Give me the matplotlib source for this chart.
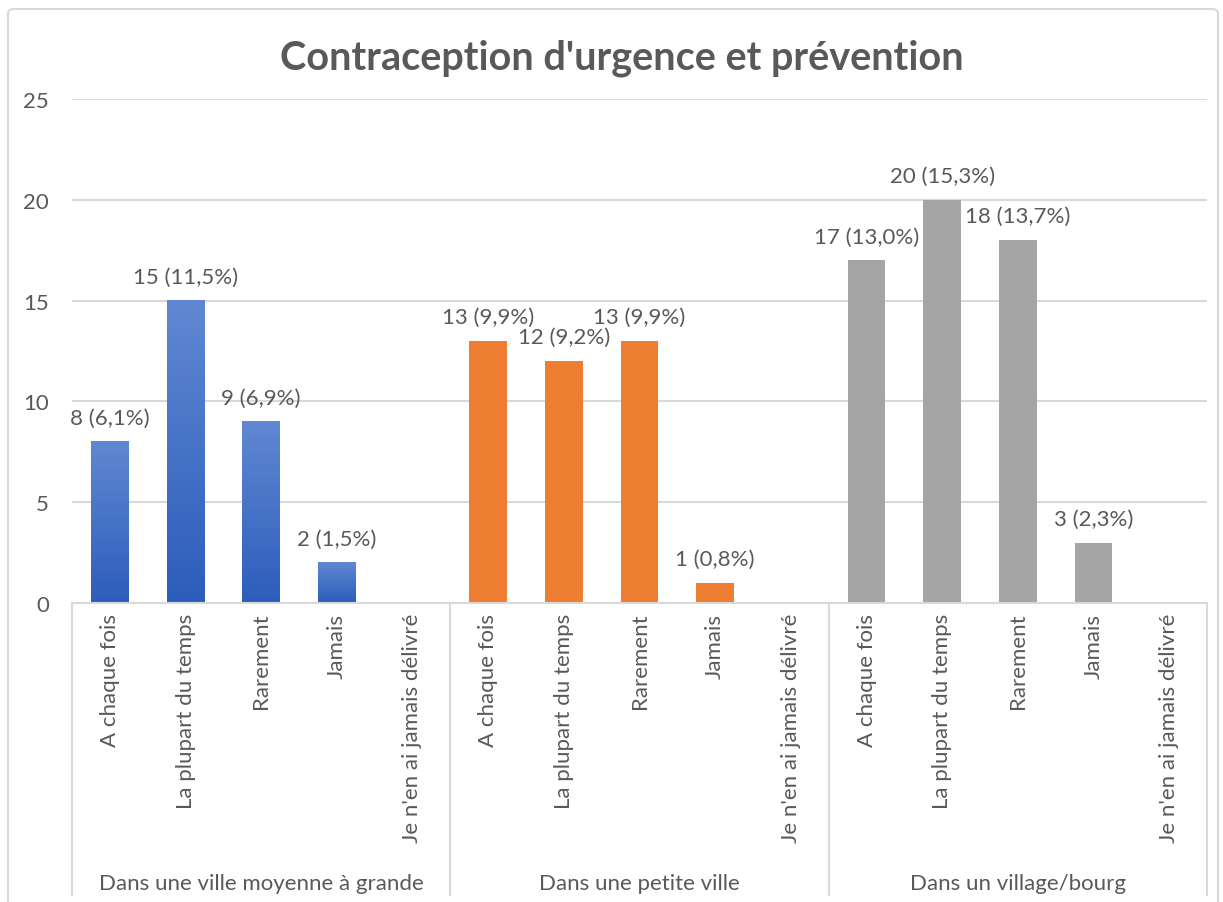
import numpy as np
import matplotlib
matplotlib.use("Agg")
import matplotlib.pyplot as plt
from matplotlib.colors import LinearSegmentedColormap
from matplotlib.patches import FancyBboxPatch

# data
answers = ["A chaque fois", "La plupart du temps", "Rarement", "Jamais",
           "Je n'en ai jamais délivré"]
groups = ["Dans une ville moyenne à grande", "Dans une petite ville",
          "Dans un village/bourg"]
ville_counts = [8, 15, 9, 2, 0]
petite_counts = [13, 12, 13, 1, 0]
village_counts = [17, 20, 18, 3, 0]
ville_pct = [6.1, 11.5, 6.9, 1.5, 0.0]
petite_pct = [9.9, 9.2, 9.9, 0.8, 0.0]
village_pct = [13.0, 15.3, 13.7, 2.3, 0.0]

counts = [ville_counts, petite_counts, village_counts]
pcts = [ville_pct, petite_pct, village_pct]
colors = ["#4472C4", "#ED7D31", "#A5A5A5"]
text_col = "#595959"
grid_col = "#D9D9D9"
fs = 16

plt.rcParams["font.family"] = ["Lato", "DejaVu Sans"]

fig = plt.figure(figsize=(12.23, 9.03), dpi=100)
fig.patches.append(FancyBboxPatch((8 / 1223, -0.05), 1210 / 1223, 1.05 - 10 / 903,
                                  boxstyle="round,pad=0,rounding_size=0.005",
                                  transform=fig.transFigure, fc="white",
                                  ec=grid_col, lw=1.5, zorder=-1))

ax = fig.add_axes([72 / 1223, 299 / 903, 1135 / 1223, 504 / 903])
ax.set_facecolor("none")

blue_cmap = LinearSegmentedColormap.from_list("blue", ["#2D5DBB", "#6088D2"])
n = len(answers)
width = 0.5
for g, (vals, pc) in enumerate(zip(counts, pcts)):
    xs = np.arange(n) + g * n
    if g == 0:
        # blue series has a vertical gradient fill
        for x, v in zip(xs, vals):
            if v > 0:
                grad = np.linspace(1, 0, 100).reshape(-1, 1)
                ax.imshow(grad, extent=(x - width / 2, x + width / 2, 0, v),
                          cmap=blue_cmap, aspect="auto", zorder=2)
    else:
        ax.bar(xs, vals, width=width, color=colors[g], zorder=2)
    for x, v, p in zip(xs, vals, pc):
        if v > 0:
            lbl = f"{v} ({p:.1f}%)".replace(".", ",")
            ax.annotate(lbl, (x, v), xytext=(0, 10), textcoords="offset points",
                        ha="center", va="bottom", fontsize=fs, color=text_col)

ax.set_xlim(-0.5, 3 * n - 0.5)
ax.set_ylim(0, 25)
ax.set_yticks(range(0, 26, 5))
ax.yaxis.grid(True, color=grid_col, lw=1.5)
ax.set_axisbelow(True)
for s in ["top", "right", "left"]:
    ax.spines[s].set_visible(False)
ax.spines["bottom"].set_color(grid_col)
ax.spines["bottom"].set_linewidth(1.5)
ax.tick_params(axis="y", length=0, pad=16.5, labelsize=fs, labelcolor=text_col)

ax.set_xticks(range(3 * n))
ax.set_xticklabels(answers * 3, rotation=90, va="top")
ax.tick_params(axis="x", length=0, pad=7, labelsize=fs, labelcolor=text_col)

# group separators and labels
for k in range(4):
    ax.plot([k * n - 0.5] * 2, [0, -0.58], transform=ax.get_xaxis_transform(),
            color=grid_col, lw=1.5, clip_on=False)
for g, name in enumerate(groups):
    ax.text(g * n + (n - 1) / 2, -0.555, name, transform=ax.get_xaxis_transform(),
            ha="center", va="center", fontsize=fs, color=text_col)

fig.text(0.5085, 0.935, "Contraception d'urgence et prévention", ha="center",
         va="center", fontsize=28.5, fontweight="bold", color=text_col)

fig.savefig("out.png", dpi=100)
